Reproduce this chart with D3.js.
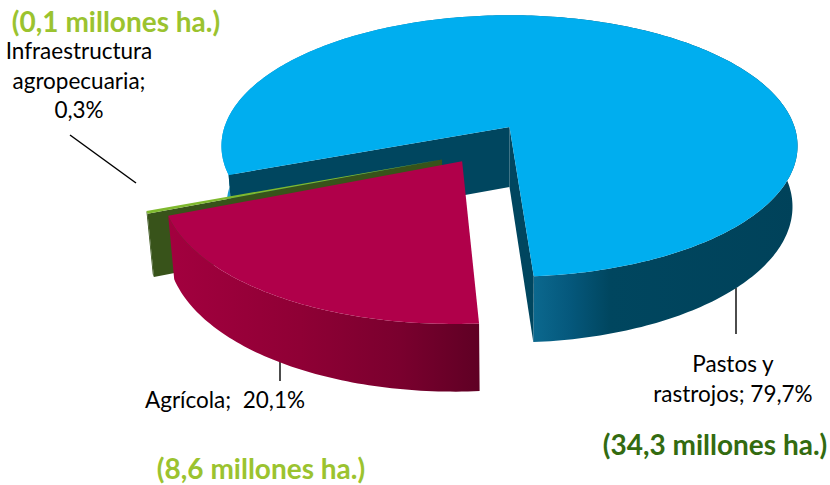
<!DOCTYPE html>
<html><head><meta charset="utf-8">
<script src="https://cdnjs.cloudflare.com/ajax/libs/d3/7.8.5/d3.min.js"></script>
<style>html,body{margin:0;padding:0;background:#fff}svg{display:block}text{font-family:Lato,"Open Sans",sans-serif}</style>
</head><body><svg id="c" width="830" height="485"></svg>
<script>
const categories = ["Pastos y rastrojos", "Agrícola", "Infraestructura agropecuaria"];
const shares = [79.7, 20.1, 0.3];
const hectareLabels = ["(34,3 millones ha.)", "(8,6 millones ha.)", "(0,1 millones ha.)"];
const dataLabelLines = [["Pastos y", "rastrojos; 79,7%"], ["Agrícola;  20,1%"], ["Infraestructura", "agropecuaria;", "0,3%"]];

const svg = d3.select("#c");
const deg = Math.PI/180;
const K = 0.145;
const planes = {top:{cx:509.5,cy:127,rx:285,ry:128}, bot:{cx:509.5,cy:187,rx:280,ry:133}};
function proj(u,v,plane){
  const p = planes[plane], w = 1-K*v;
  return [p.cx+p.rx*u/w, p.cy+p.ry*v/w];
}
const rot = -110.8;
const pie = d3.pie().sort(null).startAngle(rot*deg).endAngle((rot+360)*deg);
const arcs = pie(shares);
const explode = [[0,0],[-0.16,0.258],[-0.2285,0.244]];
const line = d3.line();

function rimPt(a,off,plane){ return proj(off[0]+Math.sin(a), off[1]-Math.cos(a), plane); }
function centre(off,plane){ return proj(off[0],off[1],plane); }
function sweep(d,step){
  const n = Math.max(2,Math.ceil((d.endAngle-d.startAngle)/step));
  return d3.range(n+1).map(i=>d.startAngle+(d.endAngle-d.startAngle)*i/n);
}
function topFace(d,off){
  return line([centre(off,"top"),...sweep(d,deg).map(a=>rimPt(a,off,"top"))])+"Z";
}
function cutFace(a,off){
  return line([centre(off,"top"),rimPt(a,off,"top"),rimPt(a,off,"bot"),centre(off,"bot")])+"Z";
}
function outerWall(d,off){
  const as = sweep(d,deg);
  return line([...as.map(a=>rimPt(a,off,"top")),...as.slice().reverse().map(a=>rimPt(a,off,"bot"))])+"Z";
}

// wall shading runs from left to right across the picture
const defs = svg.append("defs");
function gradient(id,x1,x2,stops){
  const t = d3.scaleLinear().domain([x1,x2]).range([0,1]);
  const gr = defs.append("linearGradient").attr("id",id).attr("gradientUnits","userSpaceOnUse")
    .attr("x1",x1).attr("x2",x2).attr("y1",0).attr("y2",0);
  stops.forEach(s=>gr.append("stop").attr("offset",t(s[0])).attr("stop-color",s[1]));
}
gradient("blueW",220,800,[[220,"#17a4dc"],[240,"#1290c2"],[530,"#0c6a90"],[570,"#05587c"],[610,"#00465f"],[800,"#00425a"]]);
gradient("redW",165,480,[[165,"#a3003f"],[300,"#8f0035"],[400,"#7a002e"],[480,"#5f0024"]]);

// leader lines
const leaders = svg.append("g").attr("stroke","#000").attr("stroke-width",1.4).attr("fill","none");
[[[70,135],[136,183]],[[280,360],[280,381]],[[736,288],[736,334]]].forEach(l=>leaders.append("path").attr("d",line(l)));

const [b,r,g] = arcs;
// blue slice
const gB = svg.append("g");
gB.append("path").attr("d",outerWall(b,explode[0])).attr("fill","url(#blueW)");
gB.append("path").attr("d",cutFace(b.startAngle,explode[0])).attr("fill","#00465f");
gB.append("path").attr("d",cutFace(b.endAngle,explode[0])).attr("fill","#00465f");
gB.append("path").attr("d",topFace(b,explode[0])).attr("fill","#00aeef");

// green slice
const gG = svg.append("g");
gG.append("path").attr("d",outerWall(g,explode[2])).attr("fill","#38531a");
gG.append("path").attr("d",cutFace(g.startAngle,explode[2])).attr("fill","#38531a");
gG.append("path").attr("d",topFace(g,explode[2])).attr("fill","#7fb92e");

// red slice
const gR = svg.append("g");
gR.append("path").attr("d",outerWall(r,explode[1])).attr("fill","url(#redW)");
gR.append("path").attr("d",topFace(r,explode[1])).attr("fill","#b0004a");

// labels
function multi(lines,x,y,lh){
  const t=svg.append("text").attr("text-anchor","middle").attr("font-size",22.5).attr("fill","#000").style("white-space","pre");
  lines.forEach((s,i)=>t.append("tspan").attr("x",x).attr("y",y+i*lh).text(s));
}
multi(dataLabelLines[0],733,372,30);
multi(dataLabelLines[1],225,408,30);
multi(dataLabelLines[2],79,59,29.5);
const hx=[[715,455,"#336b10"],[261,479,"#9bc32f"],[116,32,"#9bc32f"]];
hectareLabels.forEach((s,i)=>svg.append("text").attr("x",hx[i][0]).attr("y",hx[i][1]).attr("text-anchor","middle").attr("font-size",28).attr("font-weight",700).attr("fill",hx[i][2]).text(s));
</script></body></html>
